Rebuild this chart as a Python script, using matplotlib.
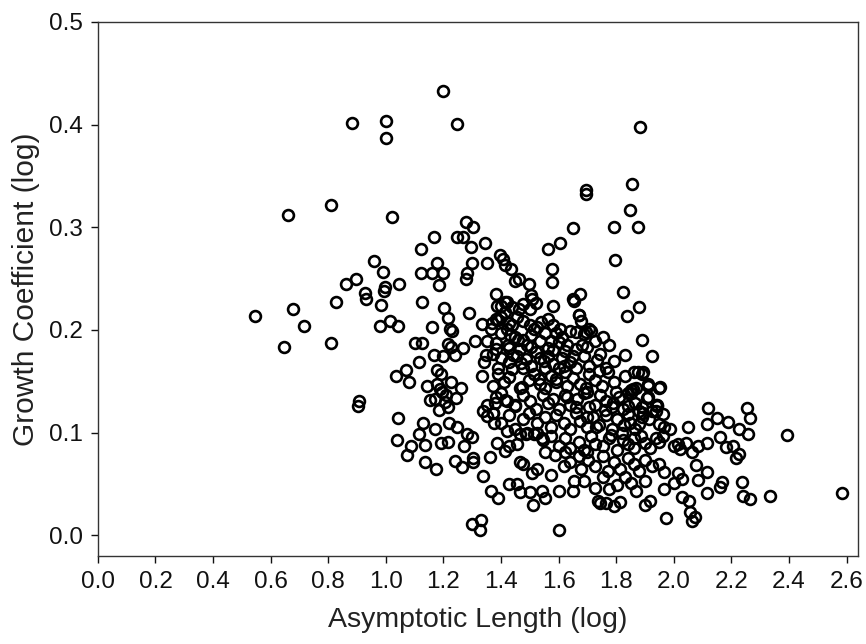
import matplotlib
matplotlib.use('Agg')
import matplotlib.pyplot as plt
import numpy as np

plt.rcParams['font.family'] = ['Liberation Sans', 'DejaVu Sans']

# ── Data ───────────────────────────────────────────────────────
# left-hand sparse points, log asymptotic length < 1.1
left_x = [0.545, 0.647, 0.660, 0.676, 0.716, 0.808, 0.808, 0.828, 0.860, 0.883,
          0.897, 0.908, 0.902, 0.929, 0.931, 0.958, 0.983, 0.979, 0.989, 0.995,
          0.997, 1.000, 1.000, 1.016, 1.023, 1.041, 1.045, 1.035, 1.069, 1.079,
          1.041, 1.037, 1.073, 1.087]
left_y = [0.214, 0.183, 0.312, 0.220, 0.204, 0.322, 0.187, 0.227, 0.245, 0.402,
          0.250, 0.131, 0.126, 0.236, 0.230, 0.267, 0.224, 0.204, 0.256, 0.238,
          0.242, 0.403, 0.387, 0.209, 0.310, 0.204, 0.245, 0.155, 0.161, 0.149,
          0.114, 0.093, 0.078, 0.087]

# 1.1 - 1.4
mid_x = [1.100, 1.125, 1.121, 1.121, 1.125, 1.116, 1.114, 1.129, 1.137, 1.135,
         1.143, 1.160, 1.167, 1.177, 1.185, 1.198, 1.198, 1.160, 1.167, 1.177,
         1.193, 1.177, 1.189, 1.169, 1.183, 1.169, 1.175, 1.193, 1.198, 1.202,
         1.214, 1.221, 1.229, 1.214, 1.225, 1.227, 1.210, 1.214, 1.218, 1.214,
         1.240, 1.248, 1.248, 1.267, 1.260, 1.242, 1.248, 1.240, 1.265, 1.271,
         1.267, 1.279, 1.279, 1.281, 1.287, 1.294, 1.298, 1.304, 1.283, 1.298,
         1.304, 1.304, 1.300, 1.329, 1.326, 1.310, 1.333, 1.333, 1.336, 1.336,
         1.344, 1.352, 1.346, 1.342, 1.352, 1.361, 1.365, 1.365, 1.376, 1.388,
         1.381, 1.205, 1.195, 1.152]
mid_y = [0.187, 0.187, 0.279, 0.255, 0.227, 0.169, 0.099, 0.109, 0.088, 0.071,
         0.145, 0.255, 0.290, 0.265, 0.244, 0.255, 0.433, 0.203, 0.176, 0.161,
         0.157, 0.147, 0.142, 0.133, 0.122, 0.103, 0.065, 0.090, 0.175, 0.221,
         0.212, 0.201, 0.199, 0.186, 0.183, 0.149, 0.137, 0.125, 0.109, 0.091,
         0.176, 0.290, 0.401, 0.290, 0.143, 0.134, 0.105, 0.072, 0.066, 0.087,
         0.182, 0.305, 0.250, 0.255, 0.216, 0.281, 0.265, 0.300, 0.099, 0.096,
         0.075, 0.071, 0.011, 0.015, 0.005, 0.189, 0.206, 0.155, 0.121, 0.058,
         0.285, 0.265, 0.176, 0.169, 0.189, 0.076, 0.043, 0.201, 0.109, 0.036,
         0.235, 0.130, 0.140, 0.132]

# dense centre, upper half (y > 0.16)
upper_x = [1.398, 1.407, 1.415, 1.436, 1.448, 1.461, 1.498, 1.505, 1.509, 1.400,
           1.413, 1.438, 1.477, 1.582, 1.367, 1.381, 1.400, 1.413, 1.438, 1.457,
           1.477, 1.515, 1.563, 1.582, 1.669, 1.678, 1.707, 1.605, 1.640, 1.381,
           1.400, 1.419, 1.425, 1.448, 1.477, 1.505, 1.525, 1.534, 1.553, 1.573,
           1.592, 1.611, 1.630, 1.659, 1.688, 1.713, 1.726, 1.755, 1.774, 1.697,
           1.659, 1.621, 1.563, 1.505, 1.467, 1.429, 1.381, 1.371, 1.400, 1.429,
           1.457, 1.486, 1.505, 1.534, 1.563, 1.582, 1.611, 1.640, 1.659, 1.688,
           1.707, 1.732, 1.745, 1.765, 1.390, 1.438, 1.477, 1.553, 1.601, 1.385,
           1.420, 1.391, 1.426, 1.461, 1.502, 1.520, 1.654, 1.671, 1.695, 1.430,
           1.460, 1.490, 1.440, 1.470, 1.520, 1.550, 1.580, 1.500, 1.540, 1.600,
           1.620, 1.650, 1.680, 1.740]
upper_y = [0.273, 0.269, 0.263, 0.259, 0.248, 0.250, 0.245, 0.234, 0.230, 0.223,
           0.227, 0.222, 0.225, 0.223, 0.207, 0.211, 0.213, 0.217, 0.205, 0.213,
           0.209, 0.201, 0.211, 0.205, 0.215, 0.209, 0.201, 0.201, 0.199, 0.187,
           0.197, 0.201, 0.185, 0.193, 0.190, 0.195, 0.203, 0.189, 0.197, 0.189,
           0.197, 0.193, 0.185, 0.198, 0.196, 0.199, 0.189, 0.193, 0.185, 0.183,
           0.181, 0.179, 0.182, 0.183, 0.181, 0.182, 0.181, 0.177, 0.173, 0.169,
           0.175, 0.172, 0.165, 0.173, 0.175, 0.167, 0.173, 0.169, 0.163, 0.175,
           0.165, 0.171, 0.177, 0.163, 0.163, 0.162, 0.163, 0.163, 0.163, 0.223,
           0.227, 0.210, 0.207, 0.220, 0.220, 0.226, 0.228, 0.215, 0.198, 0.195,
           0.190, 0.185, 0.176, 0.168, 0.178, 0.170, 0.180, 0.205, 0.208, 0.188,
           0.165, 0.175, 0.185, 0.160]

# dense centre, y 0.10 - 0.16
core_x = [1.371, 1.390, 1.409, 1.429, 1.467, 1.496, 1.515, 1.534, 1.553, 1.573,
          1.592, 1.621, 1.630, 1.649, 1.674, 1.694, 1.707, 1.726, 1.751, 1.770,
          1.793, 1.832, 1.861, 1.870, 1.889, 1.909, 1.851, 1.352, 1.381, 1.400,
          1.419, 1.477, 1.502, 1.521, 1.544, 1.563, 1.582, 1.601, 1.621, 1.640,
          1.663, 1.688, 1.707, 1.726, 1.745, 1.765, 1.784, 1.809, 1.822, 1.841,
          1.866, 1.889, 1.909, 1.937, 1.924, 1.880, 1.371, 1.429, 1.448, 1.477,
          1.496, 1.525, 1.553, 1.573, 1.592, 1.617, 1.640, 1.659, 1.674, 1.697,
          1.720, 1.740, 1.765, 1.784, 1.803, 1.828, 1.847, 1.866, 1.889, 1.966,
          1.985, 1.380, 1.415, 1.450, 1.473, 1.531, 1.788, 1.840, 1.893, 1.963,
          1.590, 1.630, 1.660, 1.700, 1.730, 1.840, 1.880, 1.760, 1.800, 1.700]
core_y = [0.145, 0.157, 0.149, 0.154, 0.143, 0.151, 0.157, 0.147, 0.143, 0.155,
          0.149, 0.159, 0.145, 0.153, 0.147, 0.143, 0.157, 0.151, 0.145, 0.159,
          0.149, 0.155, 0.159, 0.143, 0.157, 0.145, 0.141, 0.127, 0.135, 0.139,
          0.131, 0.137, 0.131, 0.123, 0.137, 0.129, 0.133, 0.123, 0.137, 0.127,
          0.133, 0.139, 0.125, 0.127, 0.137, 0.131, 0.125, 0.135, 0.123, 0.139,
          0.129, 0.125, 0.135, 0.127, 0.121, 0.121, 0.119, 0.117, 0.103, 0.113,
          0.119, 0.109, 0.115, 0.105, 0.117, 0.109, 0.103, 0.119, 0.111, 0.105,
          0.115, 0.107, 0.117, 0.103, 0.113, 0.107, 0.109, 0.103, 0.115, 0.105,
          0.103, 0.129, 0.132, 0.126, 0.144, 0.152, 0.129, 0.126, 0.119, 0.118,
          0.152, 0.135, 0.125, 0.115, 0.105, 0.118, 0.108, 0.122, 0.140, 0.140]

# dense centre, y < 0.10
low_x = [1.467, 1.486, 1.515, 1.544, 1.573, 1.601, 1.621, 1.640, 1.669, 1.688,
         1.713, 1.726, 1.755, 1.774, 1.803, 1.822, 1.841, 1.861, 1.886, 1.899,
         1.918, 1.937, 1.621, 1.697, 1.640, 1.669, 1.678, 1.701, 1.726, 1.755,
         1.770, 1.793, 1.813, 1.841, 1.861, 1.880, 1.899, 1.924, 1.755, 1.899,
         1.601, 1.601, 1.511, 1.502, 1.553, 1.543, 1.467, 1.429, 1.454, 1.477,
         1.467, 1.649, 1.653, 1.688, 1.726, 1.736, 1.745, 1.764, 1.793, 1.813,
         1.870, 1.851, 1.803, 1.832, 1.774, 1.573, 1.620, 1.586, 1.553, 1.524,
         1.509, 1.413, 1.429, 1.456, 1.386, 1.419, 1.371, 1.352, 1.400, 1.448,
         1.490, 1.525, 1.543, 1.780, 1.820, 1.860]
low_y = [0.099, 0.099, 0.099, 0.093, 0.097, 0.087, 0.095, 0.085, 0.091, 0.083,
         0.097, 0.089, 0.087, 0.095, 0.083, 0.093, 0.089, 0.085, 0.097, 0.090,
         0.085, 0.095, 0.081, 0.081, 0.071, 0.077, 0.065, 0.073, 0.067, 0.077,
         0.063, 0.071, 0.065, 0.075, 0.069, 0.063, 0.073, 0.067, 0.057, 0.053,
         0.005, 0.043, 0.029, 0.042, 0.036, 0.043, 0.042, 0.050, 0.050, 0.069,
         0.071, 0.043, 0.053, 0.053, 0.046, 0.033, 0.031, 0.031, 0.028, 0.032,
         0.043, 0.051, 0.049, 0.057, 0.045, 0.059, 0.067, 0.078, 0.081, 0.065,
         0.061, 0.082, 0.087, 0.089, 0.090, 0.102, 0.119, 0.116, 0.109, 0.127,
         0.100, 0.100, 0.095, 0.098, 0.100, 0.095]

# upper-right sparse points
upright_x = [1.563, 1.605, 1.651, 1.578, 1.576, 1.694, 1.694, 1.651, 1.674, 1.793,
             1.797, 1.847, 1.855, 1.874, 1.884, 1.824, 1.880, 1.838, 1.889, 1.924,
             1.793, 1.832, 1.875, 1.893, 1.951, 1.910, 1.858, 1.852, 1.905, 1.940]
upright_y = [0.279, 0.285, 0.299, 0.259, 0.247, 0.336, 0.332, 0.230, 0.235, 0.300,
             0.268, 0.317, 0.342, 0.300, 0.398, 0.237, 0.222, 0.214, 0.190, 0.175,
             0.170, 0.176, 0.159, 0.159, 0.144, 0.147, 0.142, 0.139, 0.134, 0.127]

# right tail, log asymptotic length > 1.9
right_x = [2.049, 2.120, 2.151, 2.114, 2.187, 2.254, 2.264, 2.226, 2.258, 2.392,
           2.159, 2.182, 2.207, 2.226, 2.216, 2.114, 2.085, 2.062, 2.077, 2.014,
           2.020, 2.001, 2.043, 2.014, 2.028, 2.001, 2.085, 2.116, 2.116, 2.168,
           2.159, 2.235, 2.239, 2.264, 2.335, 2.585, 2.028, 2.053, 2.056, 2.062,
           2.074, 1.972, 1.966, 1.966, 1.947, 1.918, 1.899, 1.947, 1.961, 1.947,
           1.943, 1.947, 1.937, 1.914]
right_y = [0.105, 0.124, 0.114, 0.108, 0.110, 0.124, 0.114, 0.103, 0.099, 0.098,
           0.096, 0.086, 0.087, 0.079, 0.075, 0.090, 0.087, 0.081, 0.068, 0.089,
           0.084, 0.087, 0.090, 0.061, 0.055, 0.051, 0.054, 0.062, 0.041, 0.052,
           0.047, 0.052, 0.038, 0.035, 0.038, 0.041, 0.037, 0.033, 0.023, 0.014,
           0.018, 0.017, 0.045, 0.062, 0.069, 0.033, 0.029, 0.108, 0.097, 0.091,
           0.126, 0.143, 0.121, 0.113]

x_all = left_x + mid_x + upper_x + core_x + low_x + upright_x + right_x
y_all = left_y + mid_y + upper_y + core_y + low_y + upright_y + right_y

# ── Plot ──────────────────────────────────────────────────────
fig = plt.figure(figsize=(8.66, 6.44), dpi=100)
ax = fig.add_axes([0.113, 0.137, 0.878, 0.829])

ax.plot(x_all, y_all, linestyle='none', marker='o', markersize=7.8,
        markerfacecolor='none', markeredgecolor='black', markeredgewidth=1.9)

ax.set_xlim(0.0, 2.64)
ax.set_ylim(-0.02, 0.5)
ax.set_xticks(np.arange(0, 2.61, 0.2))
ax.set_yticks(np.arange(0, 0.51, 0.1))
ax.xaxis.set_major_formatter(matplotlib.ticker.FormatStrFormatter('%.1f'))
ax.yaxis.set_major_formatter(matplotlib.ticker.FormatStrFormatter('%.1f'))

ax.tick_params(direction='out', length=5, width=1.0, labelsize=17.5,
               colors='#111111', pad=6)
for sp in ax.spines.values():
    sp.set_linewidth(1.0)
    sp.set_color('#333333')

ax.set_xlabel('Asymptotic Length (log)', fontsize=20.5, color='#222222', labelpad=10)
ax.set_ylabel('Growth Coefficient (log)', fontsize=21.5, color='#222222', labelpad=6)

fig.savefig('out.png', dpi=100)
